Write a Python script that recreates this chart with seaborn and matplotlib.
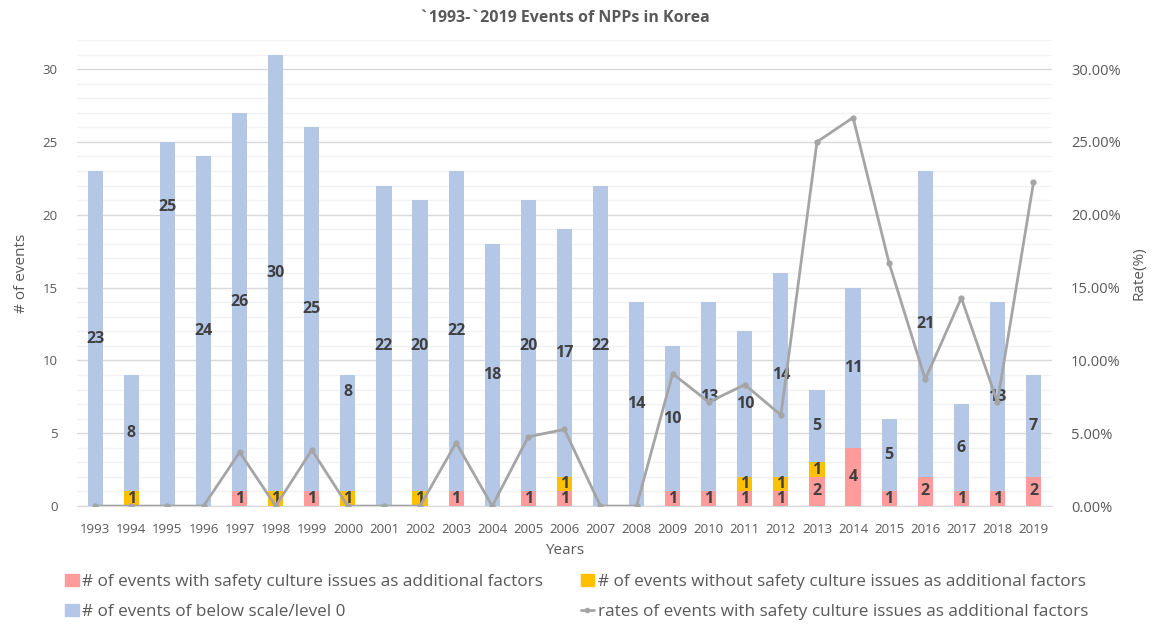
import numpy as np
import seaborn as sns
import matplotlib.pyplot as plt
from matplotlib.patches import Patch
from matplotlib.lines import Line2D
from matplotlib.ticker import MultipleLocator, PercentFormatter

# data
years = [str(y) for y in range(1993, 2020)]
with_sc = [0, 0, 0, 0, 1, 0, 1, 0, 0, 0, 1, 0, 1, 1, 0, 0, 1, 1, 1, 1, 2, 4, 1, 2, 1, 1, 2]
without_sc = [0, 1, 0, 0, 0, 1, 0, 1, 0, 1, 0, 0, 0, 1, 0, 0, 0, 0, 1, 1, 1, 0, 0, 0, 0, 0, 0]
below_scale = [23, 8, 25, 24, 26, 30, 25, 8, 22, 20, 22, 18, 20, 17, 22, 14, 10, 13, 10, 14, 5, 11, 5, 21, 6, 13, 7]
rates = [0.00, 0.00, 0.00, 0.00, 3.70, 0.00, 3.85, 0.00, 0.00, 0.00, 4.35, 0.00, 4.76, 5.26,
         0.00, 0.00, 9.09, 7.14, 8.33, 6.25, 25.00, 26.67, 16.67, 8.70, 14.29, 7.14, 22.22]

lbl_pink = "# of events with safety culture issues as additional factors"
lbl_yel = "# of events without safety culture issues as additional factors"
lbl_blue = "# of events of below scale/level 0"
lbl_line = "rates of events with safety culture issues as additional factors"

c_pink, c_yel, c_blue, c_line = "#FF9B9B", "#FFC000", "#B4C7E7", "#A5A5A5"
txt_dark, txt_gray = "#404040", "#595959"

sns.set_style("white")
plt.rcParams['font.family'] = ['Open Sans', 'DejaVu Sans']

fig = plt.figure(figsize=(11.53, 6.24), dpi=100)
ax = fig.add_axes([0.067, 0.189, 0.845, 0.747])
ax2 = ax.twinx()

bw = 0.42
yel_bottom = np.array(with_sc)
blue_bottom = yel_bottom + np.array(without_sc)
bar_kw = dict(width=bw, saturation=1, ax=ax, zorder=3, linewidth=0)
sns.barplot(x=years, y=with_sc, color=c_pink, **bar_kw)
sns.barplot(x=years, y=without_sc, bottom=yel_bottom, color=c_yel, **bar_kw)
sns.barplot(x=years, y=below_scale, bottom=blue_bottom, color=c_blue, **bar_kw)

sns.pointplot(x=years, y=np.array(rates) / 100, color=c_line, markers='o', markersize=3,
              linewidth=2, ax=ax2, zorder=4)

# data labels
label_kw = dict(ha='center', va='center', fontsize=11.5, fontweight='bold', color=txt_dark, zorder=5)
moved = {'1995': 20.5, '2000': 7.8}
for i, yr in enumerate(years):
    if with_sc[i]:
        ax.text(i, with_sc[i] / 2, str(with_sc[i]), **label_kw)
    if without_sc[i]:
        ax.text(i, yel_bottom[i] + without_sc[i] / 2, str(without_sc[i]), **label_kw)
    yb = moved.get(yr, blue_bottom[i] + below_scale[i] / 2)
    ax.text(i, yb, str(below_scale[i]), **label_kw)

ax.set_xlim(-0.5, len(years) - 0.5)
ax.set_ylim(0, 32)
ax2.set_ylim(0, 0.32)
ax.yaxis.set_major_locator(MultipleLocator(5))
ax.yaxis.set_minor_locator(MultipleLocator(1))
ax2.yaxis.set_major_locator(MultipleLocator(0.05))
ax2.yaxis.set_major_formatter(PercentFormatter(1, decimals=2))

ax.grid(axis='y', which='major', color='#D9D9D9', lw=1, zorder=0)
ax.grid(axis='y', which='minor', color='#F2F2F2', lw=1, zorder=0)
ax.set_axisbelow(True)
for a in (ax, ax2):
    for s in a.spines.values():
        s.set_visible(False)
ax.spines['bottom'].set_visible(True)
ax.spines['bottom'].set_color('#D9D9D9')

ax.tick_params(axis='both', which='both', length=0, colors=txt_gray, labelsize=9.5)
ax.tick_params(axis='x', pad=12)
ax.tick_params(axis='y', pad=14)
ax2.tick_params(axis='y', length=0, colors=txt_gray, labelsize=10.5, pad=14)

ax.set_xlabel("Years", fontsize=11, color=txt_gray, labelpad=5)
ax.set_ylabel("# of events", fontsize=11, color=txt_gray, labelpad=10)
ax2.set_ylabel("Rate(%)", fontsize=11, color=txt_gray, labelpad=8)
ax.set_title("`1993-`2019 Events of NPPs in Korea", fontsize=11.5, fontweight='bold',
             color=txt_gray, pad=13)

handles = [Patch(color=c_pink, label=lbl_pink), Patch(color=c_blue, label=lbl_blue),
           Patch(color=c_yel, label=lbl_yel),
           Line2D([], [], color=c_line, lw=2, marker='o', markersize=3, label=lbl_line)]
fig.legend(handles=handles, ncol=2, loc='lower center', bbox_to_anchor=(0.5, -0.018),
           frameon=False, fontsize=12.3, labelcolor=txt_gray, handlelength=0.8,
           handletextpad=0.2, columnspacing=2.2, labelspacing=0.8)

fig.savefig("out.png", dpi=100)
